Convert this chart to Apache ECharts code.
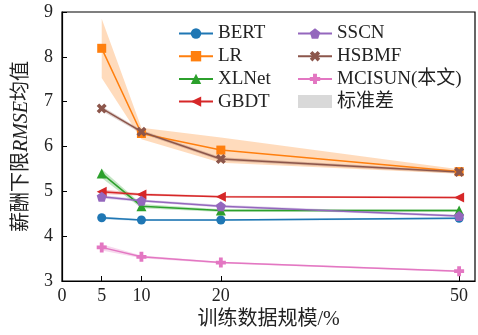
<!DOCTYPE html>
<html>
<head>
<meta charset="utf-8">
<script src="https://cdn.jsdelivr.net/npm/echarts@6/dist/echarts.min.js"></script>
<style>
  html, body { margin: 0; padding: 0; background: #fff; }
  #chart { width: 478px; height: 335px; }
</style>
</head>
<body>
<div id="chart"></div>
<script>
// Training data scale (%) on the x axis
const sizes = [5, 10, 20, 50];
const xTickLabels = [0, 5, 10, 20, 50];

// Mean RMSE of the salary lower bound per model
const bert   = [4.41, 4.36, 4.36, 4.40];
const lr     = [8.19, 6.29, 5.92, 5.44];
const xlnet  = [5.40, 4.67, 4.57, 4.57];
const gbdt   = [4.99, 4.93, 4.88, 4.86];
const sscn   = [4.88, 4.79, 4.67, 4.45];
const hsbmf  = [6.85, 6.33, 5.72, 5.43];
const mcisun = [3.75, 3.54, 3.41, 3.22];

// Standard deviations (shaded bands)
const bertStd   = [0.03, 0.02, 0.02, 0.02];
const lrStd     = [0.66, 0.13, 0.28, 0.05];
const xlnetStd  = [0.10, 0.05, 0.03, 0.03];
const gbdtStd   = [0.05, 0.03, 0.02, 0.02];
const sscnStd   = [0.04, 0.03, 0.03, 0.03];
const hsbmfStd  = [0.05, 0.04, 0.04, 0.03];
const mcisunStd = [0.07, 0.03, 0.02, 0.02];

const models = [
  { name: 'BERT',        values: bert,   std: bertStd,   color: '#1f77b4', symbol: 'circle', size: 9 },
  { name: 'LR',          values: lr,     std: lrStd,     color: '#ff7f0e', symbol: 'rect', size: 9 },
  { name: 'XLNet',       values: xlnet,  std: xlnetStd,  color: '#2ca02c', symbol: 'path://M50,0 L100,100 L0,100 Z', size: 10 },
  { name: 'GBDT',        values: gbdt,   std: gbdtStd,   color: '#d62728', symbol: 'path://M0,50 L100,0 L100,100 Z', size: 10 },
  { name: 'SSCN',        values: sscn,   std: sscnStd,   color: '#9467bd', symbol: 'path://M50,0 L97.6,34.5 L79.4,90.5 L20.6,90.5 L2.4,34.5 Z', size: 10 },
  { name: 'HSBMF',       values: hsbmf,  std: hsbmfStd,  color: '#8c564b', symbol: 'path://M25,0 L50,25 L75,0 L100,25 L75,50 L100,75 L75,100 L50,75 L25,100 L0,75 L25,50 L0,25 Z', size: 10 },
  { name: 'MCISUN(本文)', values: mcisun, std: mcisunStd, color: '#e377c2', symbol: 'path://M31,0 H69 V31 H100 V69 H69 V100 H31 V69 H0 V31 H31 Z', size: 10 }
];

const FONT = "'Liberation Serif', 'Noto Sans CJK SC', serif";
const stdName = '标准差';

const series = [];
// shaded ±std bands, one polygon per model
models.forEach((m) => {
  series.push({
    name: m.name + '-band', type: 'custom', silent: true, z: 1,
    data: sizes.map((x, k) => [x, m.values[k] - m.std[k], m.values[k] + m.std[k]]),
    encode: { x: 0, y: [1, 2] },
    renderItem: (params, api) => {
      if (params.dataIndex !== 0) return null;
      const upper = sizes.map((x, k) => api.coord([x, m.values[k] + m.std[k]]));
      const lower = sizes.map((x, k) => api.coord([x, m.values[k] - m.std[k]])).reverse();
      return {
        type: 'polygon',
        shape: { points: upper.concat(lower) },
        style: { fill: m.color, opacity: 0.28 }
      };
    }
  });
});
models.forEach((m) => {
  series.push({
    name: m.name, type: 'line',
    data: sizes.map((x, k) => [x, m.values[k]]),
    symbol: m.symbol, symbolSize: m.size,
    itemStyle: { color: m.color },
    lineStyle: { color: m.color, width: 1.5 },
    z: 3
  });
});
series.push({ name: stdName, type: 'line', data: [], itemStyle: { color: '#d9d9d9' } });

const legendCommon = {
  orient: 'vertical', padding: 0, itemWidth: 34, itemHeight: 13, itemGap: 3.7,
  textStyle: { fontFamily: FONT, fontSize: 19, color: '#222', lineHeight: 18 }
};

const chart = echarts.init(document.getElementById('chart'), null, { renderer: 'canvas' });
chart.setOption({
  animation: false,
  backgroundColor: '#fff',
  grid: { left: 62, right: 3, top: 12, bottom: 54, show: true, borderColor: '#000', borderWidth: 1.2, backgroundColor: 'transparent' },
  legend: [
    Object.assign({ left: 178, top: 24, data: ['BERT', 'LR', 'XLNet', 'GBDT'] }, legendCommon),
    Object.assign({ left: 297, top: 24, data: ['SSCN', 'HSBMF', 'MCISUN(本文)', { name: stdName, icon: 'rect' }] }, legendCommon)
  ],
  xAxis: {
    type: 'value', min: 0, max: 52,
    name: '训练数据规模/%', nameLocation: 'middle', nameGap: 29,
    nameTextStyle: { fontFamily: FONT, fontSize: 20, color: '#222' },
    axisLine: { lineStyle: { color: '#000', width: 1.2 } },
    axisTick: { inside: true, length: 5, lineStyle: { color: '#000' }, customValues: sizes },
    axisLabel: { fontFamily: FONT, fontSize: 18, color: '#222', margin: 6, customValues: xTickLabels },
    splitLine: { show: false }
  },
  yAxis: {
    type: 'value', min: 3, max: 9, interval: 1,
    name: '{a|薪酬下限}{b|RMSE}{a|均值}', nameLocation: 'middle', nameGap: 30, nameRotate: 90,
    nameTextStyle: {
      fontFamily: FONT, fontSize: 20, color: '#222',
      rich: {
        a: { fontFamily: FONT, fontSize: 20, color: '#222' },
        b: { fontFamily: FONT, fontSize: 20, color: '#222', fontStyle: 'italic' }
      }
    },
    axisLine: { show: true, lineStyle: { color: '#000', width: 1.2 } },
    axisTick: { show: true, inside: true, length: 5, lineStyle: { color: '#000' } },
    axisLabel: { fontFamily: FONT, fontSize: 18, color: '#222', margin: 9 },
    splitLine: { show: false }
  },
  series: series
});
</script>
</body>
</html>
